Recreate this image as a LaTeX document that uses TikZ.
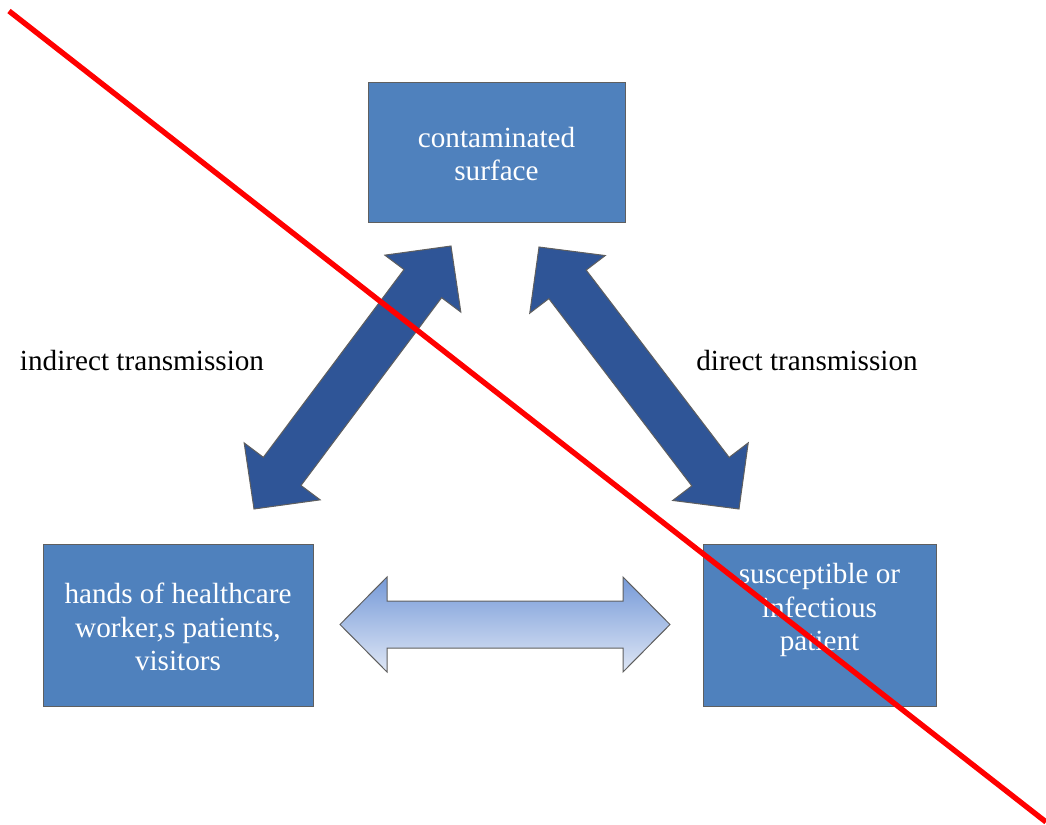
\documentclass[tikz,border=0pt]{standalone}
\usepackage{fontspec}
\setmainfont{Liberation Serif}
\usetikzlibrary{calc}

\definecolor{boxblue}{RGB}{79,129,189}
\definecolor{arrowblue}{RGB}{47,85,151}
\definecolor{edgegray}{RGB}{95,95,95}
\definecolor{shadetop}{RGB}{118,154,216}
\definecolor{shadebot}{RGB}{222,230,245}

% block double arrow between two tips: style, tip, tip
\newcommand{\blockarrow}[3]{%
  \path[#1] (#2)
    -- ($(#2)!23.5pt!(#3)!23.75pt!90:(#3)$)
    -- ($(#2)!23.5pt!(#3)!11.75pt!90:(#3)$)
    -- ($(#3)!23.5pt!(#2)!11.75pt!-90:(#2)$)
    -- ($(#3)!23.5pt!(#2)!23.75pt!-90:(#2)$)
    -- (#3)
    -- ($(#3)!23.5pt!(#2)!23.75pt!90:(#2)$)
    -- ($(#3)!23.5pt!(#2)!11.75pt!90:(#2)$)
    -- ($(#2)!23.5pt!(#3)!11.75pt!-90:(#3)$)
    -- ($(#2)!23.5pt!(#3)!23.75pt!-90:(#3)$)
    -- cycle;}

\begin{document}
\begin{tikzpicture}[
  x=0.5pt, y=-0.5pt,
  every node/.style={font=\fontsize{14.6}{16.8}\selectfont},
  box/.style={rectangle, draw=edgegray, line width=0.5pt, fill=boxblue,
              inner sep=0pt, text=white, align=center},
  boxtext/.style={text=white, align=center, inner sep=0pt},
  lbl/.style={text=black, inner sep=0pt},
  darkarr/.style={fill=arrowblue, draw=edgegray, line width=0.5pt},
  lightarr/.style={top color=shadetop, bottom color=shadebot, draw=edgegray, line width=0.5pt},
  cross/.style={draw=red, line width=2.7pt}
]
\useasboundingbox (0,0) rectangle (1046,825);

\node[box, minimum width=128.5pt, minimum height=70pt] (surf) at (496.5,152) {};
\node[boxtext] (surftext) at (496.5,154) {contaminated\\surface};
\node[box, minimum width=135pt, minimum height=81pt] (hands) at (178,625) {};
\node[boxtext] (handstext) at (178,627) {hands of healthcare\\worker,s patients,\\visitors};
\node[box, minimum width=116.5pt, minimum height=81pt] (pat) at (819.5,625) {};
\node[boxtext] (pattext) at (819.5,610) {susceptible or\\infectious\\patient};

\node[lbl] (indir) at (142,361) {indirect transmission};
\node[lbl] (dir) at (807,361) {direct transmission};

\coordinate (indtop) at (451,246);
\coordinate (indbot) at (254,509);
\coordinate (dirtop) at (539,247);
\coordinate (dirbot) at (739,509);
\coordinate (midl) at (340,624.5);
\coordinate (midr) at (670,624.5);

\blockarrow{darkarr}{indtop}{indbot}
\blockarrow{darkarr}{dirtop}{dirbot}
\blockarrow{lightarr}{midl}{midr}

\draw[cross] (9,11) -- (1046,822);
\end{tikzpicture}
\end{document}
